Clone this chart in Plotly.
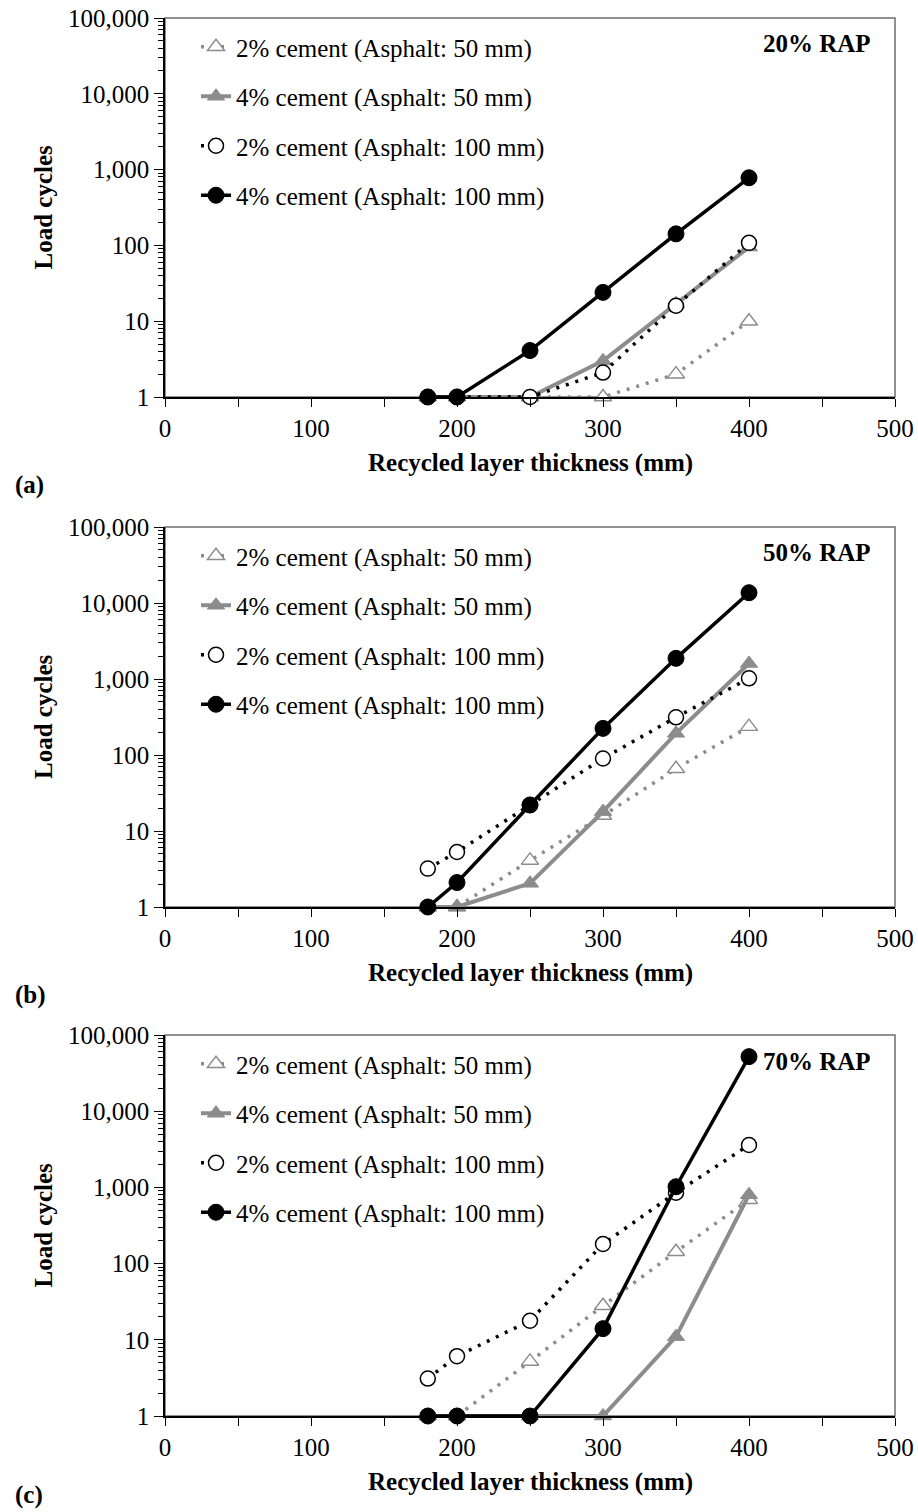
import plotly.graph_objects as go

# ---------------- data ----------------
thickness = [180, 200, 250, 300, 350, 400]
x_ticks = [0, 100, 200, 300, 400, 500]
y_ticks = [1, 10, 100, 1000, 10000, 100000]
y_tick_labels = ["1", "10", "100", "1,000", "10,000", "100,000"]

series_names = [
    "2% cement (Asphalt: 50 mm)",
    "4% cement (Asphalt: 50 mm)",
    "2% cement (Asphalt: 100 mm)",
    "4% cement (Asphalt: 100 mm)",
]
panel_titles = ["20% RAP", "50% RAP", "70% RAP"]
panel_letters = ["(a)", "(b)", "(c)"]

rap20_c2_a50 = [1, 1, 1, 1, 2, 10]
rap20_c4_a50 = [1, 1, 1, 3, 17, 95]
rap20_c2_a100 = [1, 1, 1, 2.1, 16, 108]
rap20_c4_a100 = [1, 1, 4.1, 24, 142, 780]

rap50_c2_a50 = [1, 1, 4.1, 16, 66, 236]
rap50_c4_a50 = [1, 1, 2.05, 18, 193, 1600]
rap50_c2_a100 = [3.2, 5.3, 22, 90, 313, 1020]
rap50_c4_a100 = [1, 2.1, 22, 224, 1870, 13650]

rap70_c2_a50 = [1, 1, 5.2, 28, 143, 690]
rap70_c4_a50 = [1, 1, 1, 1, 11, 800]
rap70_c2_a100 = [3.1, 6.1, 17.8, 181, 852, 3600]
rap70_c4_a100 = [1, 1, 1, 14, 1020, 52000]

panels = [
    [rap20_c2_a50, rap20_c4_a50, rap20_c2_a100, rap20_c4_a100],
    [rap50_c2_a50, rap50_c4_a50, rap50_c2_a100, rap50_c4_a100],
    [rap70_c2_a50, rap70_c4_a50, rap70_c2_a100, rap70_c4_a100],
]

# ---------------- styling ----------------
W, H = 918, 1512
FONT = "Liberation Serif"
GRAY = "#8c8c8c"
DOT = "3px,7px"

styles = [
    dict(line=dict(color=GRAY, width=3.5, dash=DOT),
         marker=dict(symbol="triangle-up", size=15, color="white",
                     line=dict(color=GRAY, width=1.4))),
    dict(line=dict(color=GRAY, width=4),
         marker=dict(symbol="triangle-up", size=15, color=GRAY,
                     line=dict(color=GRAY, width=1))),
    dict(line=dict(color="black", width=3.5, dash=DOT),
         marker=dict(symbol="circle", size=15, color="white",
                     line=dict(color="black", width=1.5))),
    dict(line=dict(color="black", width=3.5),
         marker=dict(symbol="circle", size=16, color="black",
                     line=dict(color="black", width=1))),
]

X_LEFT, X_RIGHT = 165, 895
panel_px = [(18, 397), (527, 907), (1035, 1416)]


def px_x(p):
    return p / W


def px_y(p):
    return 1 - p / H


fig = go.Figure()

for i, series in enumerate(panels):
    k = i + 1
    xa = "x" if k == 1 else f"x{k}"
    ya = "y" if k == 1 else f"y{k}"
    lg = "legend" if k == 1 else f"legend{k}"
    for j, vals in enumerate(series):
        fig.add_trace(go.Scatter(
            x=thickness, y=vals, name=series_names[j],
            mode="lines+markers", xaxis=xa, yaxis=ya,
            legend=lg, legendgroup=f"p{k}s{j}",
            cliponaxis=False, **styles[j]))

layout = dict(
    width=W, height=H,
    margin=dict(l=0, r=0, t=0, b=0, autoexpand=False),
    paper_bgcolor="white", plot_bgcolor="white",
    font=dict(family=FONT, size=25, color="black"),
    showlegend=True,
    shapes=[], annotations=[],
)

for i, (top, bot) in enumerate(panel_px):
    k = i + 1
    sx = "" if k == 1 else str(k)
    layout[f"xaxis{sx}"] = dict(
        domain=[px_x(X_LEFT), px_x(X_RIGHT)], anchor=f"y{sx}",
        range=[0, 500], tickmode="array", tickvals=x_ticks,
        ticks="outside", ticklen=8, tickwidth=1.3, tickcolor="black",
        minor=dict(dtick=50, ticks="outside", ticklen=8, tickwidth=1.3,
                   tickcolor="black", showgrid=False),
        showline=True, linecolor="black", linewidth=1.5,
        showgrid=False, zeroline=False, automargin=False,
        tickfont=dict(family=FONT, size=25, color="black"),
    )
    layout[f"yaxis{sx}"] = dict(
        domain=[px_y(bot), px_y(top)], anchor=f"x{sx}",
        type="log", range=[0, 5], tickmode="array",
        tickvals=y_ticks, ticktext=y_tick_labels,
        ticks="outside", ticklen=9, tickwidth=1.3, tickcolor="black",
        minor=dict(ticks="outside", ticklen=5, tickwidth=1, tickcolor="black",
                   showgrid=False, dtick="D1"),
        showline=True, linecolor="black", linewidth=1.5,
        showgrid=False, zeroline=False, automargin=False,
        tickfont=dict(family=FONT, size=25, color="black"),
    )
    lkey = "legend" if k == 1 else f"legend{k}"
    layout[lkey] = dict(
        x=px_x(196), y=px_y(top + 6), xanchor="left", yanchor="top",
        bgcolor="rgba(0,0,0,0)", borderwidth=0,
        font=dict(family=FONT, size=25, color="black"),
        tracegroupgap=14, itemwidth=30, traceorder="grouped",
    )
    # plot frame (top/right border)
    layout["shapes"].append(dict(
        type="rect", xref=f"x{sx} domain", yref=f"y{sx} domain",
        x0=0, x1=1, y0=0, y1=1, line=dict(color="#6e6e6e", width=1.5),
        layer="below"))
    # panel title
    layout["annotations"].append(dict(
        text=f"<b>{panel_titles[i]}</b>", xref="paper", yref="paper",
        x=px_x(873), y=px_y(top + 26), xanchor="right", yanchor="middle",
        showarrow=False, font=dict(family=FONT, size=25, color="black")))
    # y-axis title
    layout["annotations"].append(dict(
        text="<b>Load cycles</b>", xref="paper", yref="paper",
        x=px_x(43), y=px_y((top + bot) / 2), xanchor="center",
        yanchor="middle", textangle=-90, showarrow=False,
        font=dict(family=FONT, size=25, color="black")))
    # x-axis title
    layout["annotations"].append(dict(
        text="<b>Recycled layer thickness (mm)</b>", xref="paper", yref="paper",
        x=px_x((X_LEFT + X_RIGHT) / 2), y=px_y(bot + 66), xanchor="center",
        yanchor="middle", showarrow=False,
        font=dict(family=FONT, size=25, color="black")))
    # panel letter
    letter_y = min(bot + 88, H - 17)
    layout["annotations"].append(dict(
        text=f"<b>{panel_letters[i]}</b>", xref="paper", yref="paper",
        x=px_x(13), y=px_y(letter_y), xanchor="left", yanchor="middle",
        showarrow=False, font=dict(family=FONT, size=25, color="black")))

fig.update_layout(**layout)
fig.write_html("out.html")
